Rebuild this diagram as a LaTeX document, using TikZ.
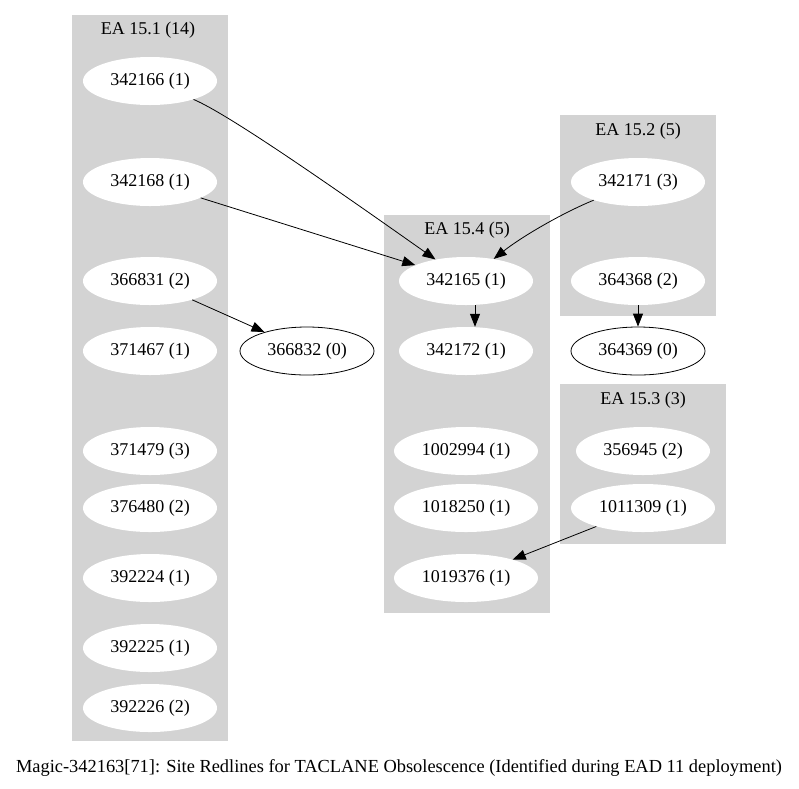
\documentclass[tikz,border=0pt]{standalone}
\usepackage{fontspec}
\setmainfont{Liberation Serif}
\usetikzlibrary{shapes.geometric,arrows.meta}
\definecolor{clgray}{HTML}{D3D3D3}
\tikzset{
  cluster/.style={fill=clgray, draw=none},
  wnode/.style={ellipse, fill=white, draw=none, minimum width=134pt, minimum height=48pt, inner sep=0pt, font=\fontsize{18}{20}\selectfont},
  wide/.style={minimum width=144pt},
  bnode/.style={wnode, draw=black, line width=0.8pt},
  clabel/.style={font=\fontsize{18}{20}\selectfont, inner sep=0pt},
  edge/.style={draw=black, line width=0.8pt, -{Triangle[length=13pt,width=10pt]}}
}
\begin{document}
\begin{tikzpicture}[x=1pt,y=-1pt]
\useasboundingbox (0,0) rectangle (799,788);
% clusters
\fill[cluster] (72,15) rectangle (228,741);
\fill[cluster] (384,215) rectangle (550,613);
\fill[cluster] (560,115) rectangle (716,316);
\fill[cluster] (560,384) rectangle (726,544);
\node[clabel] (l1) at (148,30) {EA 15.1 (14)};
\node[clabel] (l4) at (467,230) {EA 15.4 (5)};
\node[clabel] (l2) at (638,131) {EA 15.2 (5)};
\node[clabel] (l3) at (643,400) {EA 15.3 (3)};
% EA 15.1
\node[wnode] (n342166) at (150,81) {342166 (1)};
\node[wnode] (n342168) at (150,182) {342168 (1)};
\node[wnode] (n366831) at (150,281) {366831 (2)};
\node[wnode] (n371467) at (150,351) {371467 (1)};
\node[wnode] (n371479) at (150,451) {371479 (3)};
\node[wnode] (n376480) at (150,508) {376480 (2)};
\node[wnode] (n392224) at (150,578) {392224 (1)};
\node[wnode] (n392225) at (150,648) {392225 (1)};
\node[wnode] (n392226) at (150,708) {392226 (2)};
% free node
\node[bnode] (n366832) at (307,351) {366832 (0)};
% EA 15.4
\node[wnode] (n342165) at (466,281) {342165 (1)};
\node[wnode] (n342172) at (466,351) {342172 (1)};
\node[wnode,wide] (n1002994) at (466,451) {1002994 (1)};
\node[wnode,wide] (n1018250) at (466,508) {1018250 (1)};
\node[wnode,wide] (n1019376) at (466,578) {1019376 (1)};
% EA 15.2
\node[wnode] (n342171) at (638,182) {342171 (3)};
\node[wnode] (n364368) at (638,281) {364368 (2)};
\node[bnode] (n364369) at (638,351) {364369 (0)};
% EA 15.3
\node[wnode] (n356945) at (643,451) {356945 (2)};
\node[wnode,wide] (n1011309) at (643,508) {1011309 (1)};
% edges
\draw[edge] (n342166) .. controls (228,114) and (330,185) .. (n342165);
\draw[edge] (n342168) -- (n342165);
\draw[edge] (n366831) -- (n366832);
\draw[edge] (n342171) .. controls (560,214) and (520,238) .. (n342165);
\draw[edge] ([xshift=9pt]n342165.south) -- ([xshift=9pt]n342172.north);
\draw[edge] (n364368) -- (n364369);
\draw[edge] (n1011309) -- (n1019376);
% caption
\node[clabel, font=\fontsize{18.4}{20}\selectfont] (cap) at (399,768) {Magic-342163[71]: Site Redlines for TACLANE Obsolescence (Identified during EAD 11 deployment)};
\end{tikzpicture}
\end{document}
